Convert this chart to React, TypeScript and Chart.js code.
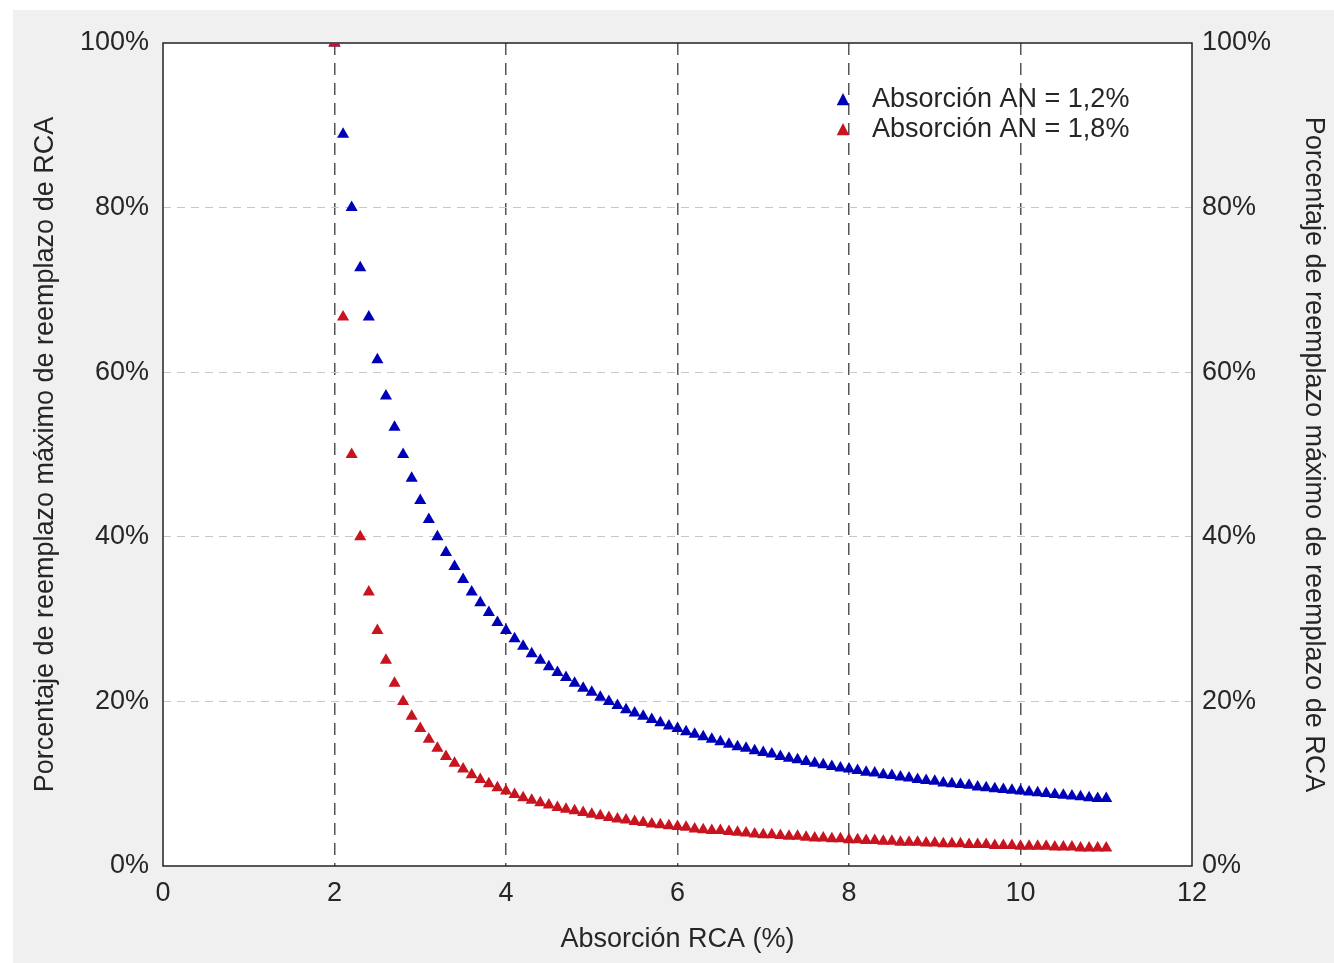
import React, { useEffect, useRef } from "react";
import { Chart, registerables } from "chart.js";

Chart.register(...registerables);

const xValues = [
  2.0, 2.1, 2.2, 2.3, 2.4, 2.5, 2.6, 2.7, 2.8, 2.9,
  3.0, 3.1, 3.2, 3.3, 3.4, 3.5, 3.6, 3.7, 3.8, 3.9,
  4.0, 4.1, 4.2, 4.3, 4.4, 4.5, 4.6, 4.7, 4.8, 4.9,
  5.0, 5.1, 5.2, 5.3, 5.4, 5.5, 5.6, 5.7, 5.8, 5.9,
  6.0, 6.1, 6.2, 6.3, 6.4, 6.5, 6.6, 6.7, 6.8, 6.9,
  7.0, 7.1, 7.2, 7.3, 7.4, 7.5, 7.6, 7.7, 7.8, 7.9,
  8.0, 8.1, 8.2, 8.3, 8.4, 8.5, 8.6, 8.7, 8.8, 8.9,
  9.0, 9.1, 9.2, 9.3, 9.4, 9.5, 9.6, 9.7, 9.8, 9.9,
  10.0, 10.1, 10.2, 10.3, 10.4, 10.5, 10.6, 10.7, 10.8, 10.9,
  11.0,
];

// Absorción AN = 1,2% (percent)
const seriesAN12 = [
  100, 88.9, 80, 72.7, 66.7, 61.5, 57.1, 53.3, 50, 47.1,
  44.4, 42.1, 40, 38.1, 36.4, 34.8, 33.3, 32, 30.8, 29.6,
  28.6, 27.6, 26.7, 25.8, 25, 24.2, 23.5, 22.9, 22.2, 21.6,
  21.1, 20.5, 20, 19.5, 19.0, 18.6, 18.2, 17.8, 17.4, 17.0,
  16.7, 16.3, 16, 15.7, 15.4, 15.1, 14.8, 14.5, 14.3, 14.0,
  13.8, 13.6, 13.3, 13.1, 12.9, 12.7, 12.5, 12.3, 12.1, 11.9,
  11.8, 11.6, 11.4, 11.3, 11.1, 11.0, 10.8, 10.7, 10.5, 10.4,
  10.3, 10.1, 10, 9.9, 9.8, 9.6, 9.5, 9.4, 9.3, 9.2,
  9.1, 9.0, 8.9, 8.8, 8.7, 8.6, 8.5, 8.4, 8.3, 8.2,
  8.2,
];

// Absorción AN = 1,8% (percent)
const seriesAN18 = [
  100, 66.7, 50, 40, 33.3, 28.6, 25, 22.2, 20, 18.2,
  16.7, 15.4, 14.3, 13.3, 12.5, 11.8, 11.1, 10.5, 10, 9.5,
  9.1, 8.7, 8.3, 8.0, 7.7, 7.4, 7.1, 6.9, 6.7, 6.5,
  6.3, 6.1, 5.9, 5.7, 5.6, 5.4, 5.3, 5.1, 5.0, 4.9,
  4.8, 4.7, 4.5, 4.4, 4.3, 4.3, 4.2, 4.1, 4.0, 3.9,
  3.8, 3.8, 3.7, 3.6, 3.6, 3.5, 3.4, 3.4, 3.3, 3.3,
  3.2, 3.2, 3.1, 3.1, 3.0, 3.0, 2.9, 2.9, 2.9, 2.8,
  2.8, 2.7, 2.7, 2.7, 2.6, 2.6, 2.6, 2.5, 2.5, 2.5,
  2.4, 2.4, 2.4, 2.4, 2.3, 2.3, 2.3, 2.2, 2.2, 2.2,
  2.2,
];

const seriesLabels = ["Absorción AN = 1,2%", "Absorción AN = 1,8%"];
const seriesColors = ["#0000b8", "#c8141e"];
const xTitle = "Absorción RCA (%)";
const yTitle = "Porcentaje de reemplazo máximo de reemplazo de RCA";

const FONT = "'Liberation Sans', Arial, sans-serif";
const FONT_SIZE = 27;
const TEXT_COLOR = "#262626";

const plotBgPlugin = {
  id: "plotBg",
  beforeDraw(chart: any) {
    const { ctx, chartArea } = chart;
    ctx.save();
    ctx.fillStyle = "#ffffff";
    ctx.fillRect(chartArea.left, chartArea.top, chartArea.right - chartArea.left, chartArea.bottom - chartArea.top);
    ctx.restore();
  },
  beforeDatasetsDraw(chart: any) {
    const { ctx, chartArea } = chart;
    ctx.save();
    ctx.strokeStyle = "#222222";
    ctx.lineWidth = 1.5;
    ctx.setLineDash([]);
    ctx.strokeRect(chartArea.left, chartArea.top, chartArea.right - chartArea.left, chartArea.bottom - chartArea.top);
    ctx.restore();
  },
};

const legendPlugin = {
  id: "customLegend",
  afterDraw(chart: any) {
    const { ctx, chartArea } = chart;
    ctx.save();
    ctx.font = `${FONT_SIZE}px ${FONT}`;
    ctx.textBaseline = "middle";
    ctx.textAlign = "left";
    seriesLabels.forEach((label, i) => {
      const y = chartArea.top + 57 + i * 30;
      const mx = chartArea.right - 349;
      const r = 7;
      ctx.fillStyle = seriesColors[i];
      ctx.beginPath();
      ctx.moveTo(mx, y - r);
      ctx.lineTo(mx + r * 0.9, y + r * 0.75);
      ctx.lineTo(mx - r * 0.9, y + r * 0.75);
      ctx.closePath();
      ctx.fill();
      ctx.fillStyle = TEXT_COLOR;
      ctx.fillText(label, chartArea.right - 320, y);
    });
    ctx.restore();
  },
};

export default function App() {
  const canvasRef = useRef<HTMLCanvasElement | null>(null);

  useEffect(() => {
    if (!canvasRef.current) return;
    const tickFont = { family: FONT, size: FONT_SIZE };
    const chart = new Chart(canvasRef.current, {
      type: "scatter",
      data: {
        datasets: [
          {
            label: seriesLabels[0],
            data: xValues.map((x, i) => ({ x, y: seriesAN12[i] })),
            backgroundColor: seriesColors[0],
            borderColor: seriesColors[0],
            pointStyle: "triangle",
            pointRadius: 7,
            borderWidth: 0,
            order: 1,
          },
          {
            label: seriesLabels[1],
            data: xValues.map((x, i) => ({ x, y: seriesAN18[i] })),
            backgroundColor: seriesColors[1],
            borderColor: seriesColors[1],
            pointStyle: "triangle",
            pointRadius: 7,
            borderWidth: 0,
            order: 0,
          },
        ],
      },
      options: {
        responsive: false,
        animation: false,
        layout: { padding: { top: 33, left: 0, right: 0, bottom: 0 } },
        plugins: {
          legend: { display: false },
          tooltip: { enabled: false },
        },
        scales: {
          x: {
            type: "linear",
            min: 0,
            max: 12,
            ticks: { stepSize: 2, font: tickFont, color: TEXT_COLOR, padding: 11 },
            grid: {
              drawTicks: false,
              lineWidth: 1.5,
              color: (c: any) =>
                c.tick && (c.tick.value === 0 || c.tick.value === 12) ? "rgba(0,0,0,0)" : "#555555",
            },
            border: { display: false, dash: [12, 8] },
            title: {
              display: true,
              text: xTitle,
              font: tickFont,
              color: TEXT_COLOR,
              padding: { top: 0, bottom: 7 },
            },
            afterFit: (s: any) => {
              s.height = 97;
            },
          },
          y: {
            position: "left",
            min: 0,
            max: 100,
            ticks: {
              stepSize: 20,
              font: tickFont,
              color: TEXT_COLOR,
              padding: 14,
              callback: (v: any) => `${v}%`,
            },
            grid: {
              drawTicks: false,
              lineWidth: 1,
              color: (c: any) =>
                c.tick && (c.tick.value === 0 || c.tick.value === 100) ? "rgba(0,0,0,0)" : "#c8c8c8",
            },
            border: { display: false, dash: [8, 6] },
            title: {
              display: true,
              text: yTitle,
              font: tickFont,
              color: TEXT_COLOR,
              padding: { top: 16, bottom: 0 },
            },
            afterFit: (s: any) => {
              s.width = 150;
            },
          },
          y2: {
            position: "right",
            min: 0,
            max: 100,
            ticks: {
              stepSize: 20,
              font: tickFont,
              color: TEXT_COLOR,
              padding: 10,
              callback: (v: any) => `${v}%`,
            },
            grid: { display: false, drawTicks: false },
            border: { display: false },
            title: {
              display: true,
              text: yTitle,
              font: tickFont,
              color: TEXT_COLOR,
              padding: { top: 4, bottom: 0 },
            },
            afterFit: (s: any) => {
              s.width = 142;
            },
          },
        },
      } as any,
      plugins: [plotBgPlugin, legendPlugin],
    });
    return () => chart.destroy();
  }, []);

  return (
    <div
      style={{
        position: "absolute",
        left: 13,
        top: 10,
        width: 1321,
        height: 953,
        background: "#f0f0f0",
      }}
    >
      <canvas ref={canvasRef} width={1321} height={953} style={{ display: "block" }} />
    </div>
  );
}
